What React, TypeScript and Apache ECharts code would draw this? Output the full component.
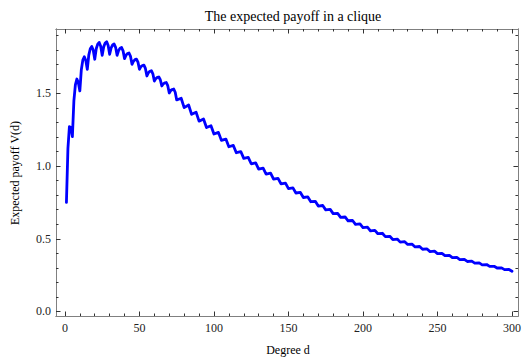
import React, { useEffect, useRef } from "react";
import * as echarts from "echarts";

// Expected payoff V(d) against the degree d. Every fifth degree the payoff
// drops into a sharp trough before rising again; the ripple fades as d grows.
const degree: number[] = [
  1, 2, 3, 4, 5, 6, 7, 8, 9, 10, 11, 12, 13, 14, 15, 16, 17, 18, 19, 20,
  21, 22, 23, 24, 25, 26, 27, 28, 29, 30, 31, 32, 33, 34, 35, 36, 37, 38, 39, 40,
  41, 42, 43, 44, 45, 46, 47, 48, 49, 50, 51, 52, 53, 54, 55, 56, 57, 58, 59, 60,
  61, 62, 63, 64, 65, 66, 67, 68, 69, 70, 71, 72, 73, 74, 75,
  78, 80, 83, 85, 88, 90, 93, 95, 98, 100, 103, 105, 108, 110, 113, 115, 118, 120,
  123, 125, 128, 130, 133, 135, 138, 140, 143, 145, 148, 150, 153, 155, 158, 160,
  163, 165, 168, 170, 173, 175, 178, 180, 183, 185, 188, 190, 193, 195, 198, 200,
  203, 205, 208, 210, 213, 215, 218, 220, 223, 225, 228, 230, 233, 235, 238, 240,
  243, 245, 248, 250, 253, 255, 258, 260, 263, 265, 268, 270, 273, 275, 278, 280,
  283, 285, 288, 290, 293, 295, 298, 300,
];

const payoff: number[] = [
  0.75, 1.12, 1.271, 1.265, 1.203, 1.449, 1.559, 1.599, 1.574, 1.517,
  1.663, 1.729, 1.752, 1.726, 1.666, 1.763, 1.807, 1.823, 1.797, 1.735,
  1.807, 1.839, 1.851, 1.824, 1.762, 1.82, 1.846, 1.855, 1.829, 1.769,
  1.813, 1.833, 1.84, 1.817, 1.762, 1.795, 1.811, 1.816, 1.793, 1.739,
  1.763, 1.774, 1.778, 1.755, 1.7, 1.722, 1.732, 1.736, 1.715, 1.666,
  1.684, 1.692, 1.695, 1.672, 1.62, 1.642, 1.652, 1.656, 1.635, 1.585,
  1.602, 1.61, 1.613, 1.594, 1.551, 1.566, 1.573, 1.575, 1.553, 1.503,
  1.52, 1.527, 1.53, 1.508, 1.455,
  1.467, 1.402, 1.42, 1.356, 1.371, 1.309, 1.324, 1.265, 1.278, 1.221, 1.232, 1.177,
  1.186, 1.133, 1.142, 1.092, 1.1, 1.053, 1.06, 1.016, 1.022, 0.979, 0.986, 0.945,
  0.951, 0.91, 0.916, 0.878, 0.883, 0.845, 0.85, 0.815, 0.819, 0.784, 0.788, 0.755,
  0.758, 0.725, 0.729, 0.699, 0.702, 0.673, 0.675, 0.647, 0.65, 0.624, 0.626, 0.599,
  0.602, 0.577, 0.58, 0.555, 0.558, 0.535, 0.538, 0.515, 0.517, 0.495, 0.498, 0.477,
  0.48, 0.461, 0.463, 0.444, 0.447, 0.428, 0.43, 0.412, 0.415, 0.398, 0.4, 0.384,
  0.386, 0.37, 0.372, 0.357, 0.359, 0.344, 0.346, 0.333, 0.334, 0.321, 0.323, 0.31,
  0.311, 0.299, 0.3, 0.288, 0.289, 0.277,
];

const xMajorTicks: number[] = [0, 50, 100, 150, 200, 250, 300];
const xMinorTicks: number[] = [
  10, 20, 30, 40, 60, 70, 80, 90, 110, 120, 130, 140, 160, 170, 180, 190, 210, 220,
  230, 240, 260, 270, 280, 290,
];
const yMajorTicks: number[] = [0, 0.5, 1.0, 1.5];
const yMinorTicks: number[] = [
  0.1, 0.2, 0.3, 0.4, 0.6, 0.7, 0.8, 0.9, 1.1, 1.2, 1.3, 1.4, 1.6, 1.7, 1.8, 1.9,
];

const TITLE = "The expected payoff in a clique";
const X_NAME = "Degree d";
const Y_NAME = "Expected payoff V(d)";

const FONT = "'Liberation Serif', 'DejaVu Serif', serif";
const FRAME = "#808080";
const TICK = "#333333";

const X_MIN = -6;
const X_MAX = 304;
const Y_MIN = -0.031;
const Y_MAX = 1.943;

function xAxisFor(position: "bottom" | "top", ticks: number[], major: boolean, labels: boolean) {
  return {
    type: "value",
    position,
    min: X_MIN,
    max: X_MAX,
    splitLine: { show: false },
    axisLine: { show: true, onZero: false, lineStyle: { color: FRAME, width: 1 } },
    axisTick: {
      show: true,
      inside: true,
      length: major ? 4.5 : 2.5,
      customValues: ticks,
      lineStyle: { color: TICK, width: 1 },
    },
    axisLabel: {
      show: labels,
      customValues: ticks,
      margin: 6,
      fontFamily: FONT,
      fontSize: 12,
      color: "#222",
      formatter: (v: number) => String(Math.round(v)),
    },
  };
}

function yAxisFor(position: "left" | "right", ticks: number[], major: boolean, labels: boolean) {
  return {
    type: "value",
    position,
    min: Y_MIN,
    max: Y_MAX,
    splitLine: { show: false },
    axisLine: { show: true, onZero: false, lineStyle: { color: FRAME, width: 1 } },
    axisTick: {
      show: true,
      inside: true,
      length: major ? 4.5 : 2.5,
      customValues: ticks,
      lineStyle: { color: TICK, width: 1 },
    },
    axisLabel: {
      show: labels,
      customValues: ticks,
      margin: 5,
      fontFamily: FONT,
      fontSize: 12,
      color: "#222",
      formatter: (v: number) => v.toFixed(1),
    },
  };
}

export default function App() {
  const ref = useRef<HTMLDivElement>(null);

  useEffect(() => {
    document.body.style.margin = "0";
    if (!ref.current) return;
    const chart = echarts.init(ref.current, null, { renderer: "svg" });
    const points = degree.map((d, i) => [d, payoff[i]]);

    chart.setOption({
      animation: false,
      backgroundColor: "#ffffff",
      title: {
        text: TITLE,
        left: 288,
        top: 4,
        textAlign: "center",
        textStyle: { fontFamily: FONT, fontSize: 14, fontWeight: "normal", color: "#000" },
      },
      grid: { left: 56, right: 3, top: 29, bottom: 46, containLabel: false },
      xAxis: [
        xAxisFor("bottom", xMajorTicks, true, true),
        xAxisFor("bottom", xMinorTicks, false, false),
        xAxisFor("top", xMajorTicks, true, false),
        xAxisFor("top", xMinorTicks, false, false),
      ],
      yAxis: [
        yAxisFor("left", yMajorTicks, true, true),
        yAxisFor("left", yMinorTicks, false, false),
        yAxisFor("right", yMajorTicks, true, false),
        yAxisFor("right", yMinorTicks, false, false),
      ],
      graphic: [
        {
          type: "text",
          x: 288,
          y: 350,
          style: {
            text: X_NAME,
            fontFamily: FONT,
            fontSize: 12,
            fill: "#000",
            align: "center",
            verticalAlign: "middle",
          },
        },
        {
          type: "text",
          x: 15,
          y: 173,
          rotation: Math.PI / 2,
          style: {
            text: Y_NAME,
            fontFamily: FONT,
            fontSize: 12,
            fill: "#000",
            align: "center",
            verticalAlign: "middle",
          },
        },
      ],
      series: [
        {
          type: "line",
          xAxisIndex: 0,
          yAxisIndex: 0,
          data: points,
          showSymbol: false,
          smooth: false,
          lineStyle: { color: "#0000ff", width: 2.8, join: "round", cap: "round" },
          itemStyle: { color: "#0000ff" },
          z: 5,
        },
      ],
    });

    return () => chart.dispose();
  }, []);

  return <div ref={ref} style={{ width: 524, height: 362 }} />;
}
